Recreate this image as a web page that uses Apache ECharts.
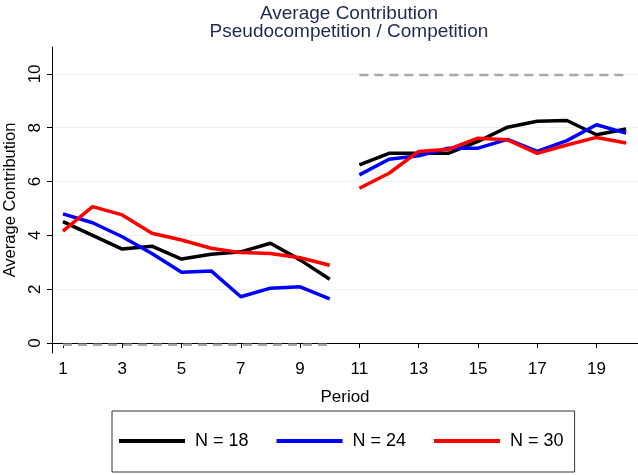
<!DOCTYPE html>
<html>
<head>
<meta charset="utf-8">
<script src="https://cdn.jsdelivr.net/npm/echarts@6/dist/echarts.min.js"></script>
<style>html,body{margin:0;padding:0;background:#fff}#main{width:638px;height:475px}</style>
</head>
<body>
<div id="main"></div>
<script>
// periods and average contribution per group size
var periodsA = [1, 2, 3, 4, 5, 6, 7, 8, 9, 10];
var periodsB = [11, 12, 13, 14, 15, 16, 17, 18, 19, 20];
var n18A = [4.51, 4.00, 3.49, 3.60, 3.12, 3.30, 3.39, 3.71, 3.09, 2.37];
var n18B = [6.62, 7.05, 7.05, 7.05, 7.49, 8.02, 8.24, 8.27, 7.74, 7.95];
var n24A = [4.80, 4.47, 3.95, 3.33, 2.63, 2.68, 1.72, 2.04, 2.09, 1.64];
var n24B = [6.25, 6.83, 6.96, 7.24, 7.24, 7.57, 7.12, 7.52, 8.11, 7.80];
var n30A = [4.16, 5.07, 4.76, 4.08, 3.83, 3.52, 3.36, 3.33, 3.17, 2.89];
var n30B = [5.75, 6.31, 7.12, 7.20, 7.61, 7.55, 7.05, 7.36, 7.64, 7.43];
// reference levels (dashed)
var refA = [[1, -0.06], [10, -0.06]];
var refB = [[11, 9.96], [20, 9.96]];
var xTicks = [1, 3, 5, 7, 9, 11, 13, 15, 17, 19];
var yTicks = [0, 2, 4, 6, 8, 10];

var myChart = echarts.init(document.getElementById('main'));
var font = 'Liberation Sans, Arial, sans-serif';

function pairs(xs, ys) {
    var res = [];
    for (var i = 0; i < xs.length; i++) res.push([xs[i], ys[i]]);
    return res;
}

function lineSeries(name, color, data) {
    return {
        name: name,
        type: 'line',
        data: data,
        symbol: 'none',
        color: color,
        lineStyle: { color: color, width: 3.5 },
        animation: false
    };
}

function refSeries(data) {
    return {
        type: 'line',
        data: data,
        symbol: 'none',
        silent: true,
        z: 3,
        lineStyle: { color: '#a8a8a8', width: 2.5, type: [9, 6] },
        animation: false
    };
}

var option = {
    backgroundColor: '#fff',
    textStyle: { fontFamily: font },
    title: {
        text: 'Average Contribution\nPseudocompetition / Competition',
        left: 344,
        top: 0,
        textAlign: 'center',
        textStyle: { fontFamily: font, fontSize: 19, fontWeight: 'normal', color: '#1e2a50', lineHeight: 18 }
    },
    grid: { left: 52, right: 0, top: 47, bottom: 122, outerBoundsMode: 'none' },
    legend: {
        left: 112,
        top: 411,
        padding: [21, 11, 22, 7],
        borderColor: '#333',
        borderWidth: 1,
        itemWidth: 66,
        itemHeight: 4,
        itemGap: 28,
        icon: 'rect',
        textStyle: { fontFamily: font, fontSize: 18, color: '#000', padding: [0, 0, 0, 5] },
        data: ['N = 18', 'N = 24', 'N = 30']
    },
    xAxis: {
        type: 'value',
        min: 0.63,
        max: 20.4,
        name: 'Period',
        nameLocation: 'middle',
        nameGap: 36,
        nameTextStyle: { fontFamily: font, fontSize: 17, color: '#000' },
        axisLine: { lineStyle: { color: '#000', width: 1 } },
        axisTick: { show: true, length: 5, customValues: xTicks, lineStyle: { color: '#000' } },
        axisLabel: { customValues: xTicks, fontFamily: font, fontSize: 17, color: '#000', margin: 8 },
        splitLine: { show: false }
    },
    yAxis: {
        type: 'value',
        min: -0.37,
        max: 11,
        name: 'Average Contribution',
        nameLocation: 'middle',
        nameGap: 32,
        nameTextStyle: { fontFamily: font, fontSize: 16.5, color: '#000' },
        axisLine: { show: true, lineStyle: { color: '#000', width: 1 } },
        axisTick: { show: true, length: 5, customValues: yTicks, lineStyle: { color: '#000' } },
        axisLabel: { customValues: yTicks, rotate: 90, fontFamily: font, fontSize: 17, color: '#000', margin: 8 },
        splitLine: { show: true, lineStyle: { color: '#eaf0f3', width: 1 } }
    },
    series: [
        refSeries(refA),
        refSeries(refB),
        lineSeries('N = 18', '#000000', pairs(periodsA, n18A)),
        lineSeries('N = 18', '#000000', pairs(periodsB, n18B)),
        lineSeries('N = 24', '#0000ff', pairs(periodsA, n24A)),
        lineSeries('N = 24', '#0000ff', pairs(periodsB, n24B)),
        lineSeries('N = 30', '#ff0000', pairs(periodsA, n30A)),
        lineSeries('N = 30', '#ff0000', pairs(periodsB, n30B))
    ]
};

myChart.setOption(option);
</script>
</body>
</html>
